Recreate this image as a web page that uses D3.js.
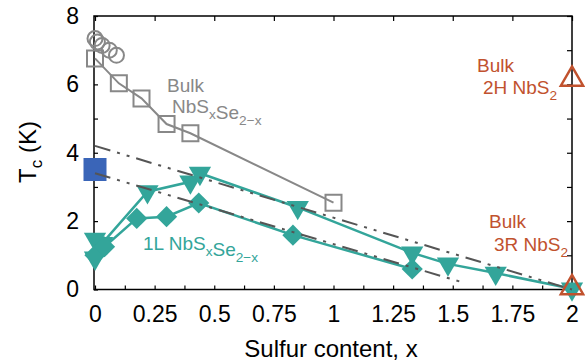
<!DOCTYPE html>
<html>
<head>
<meta charset="utf-8">
<script src="https://cdn.jsdelivr.net/npm/d3@7"></script>
<style>
  body { margin: 0; background: #fff; }
  text { font-family: "Liberation Sans", Arial, sans-serif; }
</style>
</head>
<body>
<svg width="585" height="364"></svg>
<script>
// bulk NbSxSe2-x (open squares + open circles)
const bulkSquares = [[0, 6.76], [0.1, 6.03], [0.195, 5.59], [0.3, 4.84], [0.4, 4.57], [1.0, 2.54]];
const bulkCircles = [[0, 7.34], [0.01, 7.24], [0.03, 7.14], [0.06, 7.0], [0.09, 6.85]];
// reference point (filled blue square)
const bluePoint = [[0, 3.51]];
// 1L NbSxSe2-x
const monoTriangles = [[0, 0.92], [0, 1.47], [0.03, 1.35], [0.22, 2.86], [0.4, 3.15], [0.44, 3.4],
  [0.85, 2.4], [1.33, 1.07], [1.48, 0.75], [1.68, 0.48], [2.0, 0.02]];
const monoDiamonds = [[0, 1.0], [0.04, 1.25], [0.175, 2.08], [0.3, 2.13], [0.435, 2.53], [0.83, 1.59], [1.33, 0.6]];
// bulk NbS2
const nbs2 = [[2, 6.15], [2, 0.05]];
// dash-dot guide lines
const guideUpper = [[0, 4.2], [2, 0]];
const guideLower = [[0, 3.4], [1.55, 0.19]];

const xMajor = [0, 0.25, 0.5, 0.75, 1, 1.25, 1.5, 1.75, 2];
const xMinor = d3.range(0, 2.001, 0.125);
const yMajor = [0, 2, 4, 6, 8];
const yMinor = [0, 1, 2, 3, 4, 5, 6, 7, 8];

const svg = d3.select("svg");

const x = d3.scaleLinear().domain([0, 2]).range([95, 572]);
const y = d3.scaleLinear().domain([0, 8]).range([289.5, 16]);

const grey = "#888888";
const teal = "#33a59a";
const orange = "#c1522e";
const dark = "#555555";

// axes (ticks inward)
svg.append("g")
    .attr("transform", `translate(0, ${y(0)})`)
    .call(d3.axisBottom(x).tickValues(xMinor).tickSizeInner(-4).tickSizeOuter(0).tickFormat(""));
svg.append("g")
    .attr("transform", `translate(0, ${y(0)})`)
    .call(d3.axisBottom(x).tickValues(xMajor).tickSize(0).tickPadding(16).tickFormat(d3.format("")));
svg.append("g")
    .attr("transform", `translate(0, ${y(8)})`)
    .call(d3.axisTop(x).tickValues(xMajor).tickSizeInner(-5).tickSizeOuter(0).tickFormat(""));
svg.append("g")
    .attr("transform", `translate(94, 0)`)
    .call(d3.axisLeft(y).tickValues(yMinor).tickSizeInner(-4).tickSizeOuter(0).tickFormat(""));
svg.append("g")
    .attr("transform", `translate(94, 0)`)
    .call(d3.axisLeft(y).tickValues(yMajor).tickSize(0).tickPadding(15));
svg.append("g")
    .attr("transform", `translate(572, 0)`)
    .call(d3.axisRight(y).tickValues(yMinor).tickSizeInner(-5).tickSizeOuter(0).tickFormat(""));

svg.selectAll(".domain").remove();
svg.selectAll(".tick line").attr("stroke", "#000").attr("stroke-width", 1.2);
svg.selectAll(".tick text").attr("font-size", 23).attr("fill", "#000")
    .style("font-family", "'Liberation Sans', Arial, sans-serif");

svg.append("rect")
    .attr("x", 94).attr("y", y(8))
    .attr("width", 572 - 94).attr("height", y(0) - y(8))
    .attr("fill", "none").attr("stroke", "#000").attr("stroke-width", 1.5);

const line = d3.line().x(d => x(d[0])).y(d => y(d[1]));
const sym = (type, size) => d3.symbol().type(type).size(size)();

// bulk alloy line + markers
svg.append("path").attr("d", line(bulkSquares))
    .attr("fill", "none").attr("stroke", grey).attr("stroke-width", 2);
svg.selectAll(".bsq").data(bulkSquares).join("path")
    .attr("d", sym(d3.symbolSquare, 256))
    .attr("transform", d => `translate(${x(d[0])}, ${y(d[1])})`)
    .attr("fill", "none").attr("stroke", grey).attr("stroke-width", 2);
svg.selectAll(".bci").data(bulkCircles).join("circle")
    .attr("cx", d => x(d[0])).attr("cy", d => y(d[1])).attr("r", 7.5)
    .attr("fill", "none").attr("stroke", grey).attr("stroke-width", 2);

// blue reference
svg.selectAll(".blue").data(bluePoint).join("rect")
    .attr("x", d => x(d[0]) - 11.5).attr("y", d => y(d[1]) - 11.5)
    .attr("width", 23).attr("height", 23)
    .attr("fill", "#3a65b8");

// monolayer series
svg.append("path").attr("d", line(monoTriangles))
    .attr("fill", "none").attr("stroke", teal).attr("stroke-width", 2.5);
svg.append("path").attr("d", line(monoDiamonds))
    .attr("fill", "none").attr("stroke", teal).attr("stroke-width", 2.5);
svg.selectAll(".tri").data(monoTriangles).join("path")
    .attr("d", sym(d3.symbolTriangle, 215))
    .attr("transform", d => `translate(${x(d[0])}, ${y(d[1])}) rotate(180)`)
    .attr("fill", teal);
svg.selectAll(".dia").data(monoDiamonds).join("path")
    .attr("d", sym(d3.symbolSquare, 225))
    .attr("transform", d => `translate(${x(d[0])}, ${y(d[1])}) rotate(45)`)
    .attr("fill", teal);

// NbS2 bulk
svg.selectAll(".nbs2").data(nbs2).join("path")
    .attr("d", sym(d3.symbolTriangle, 215))
    .attr("transform", d => `translate(${x(d[0])}, ${y(d[1])})`)
    .attr("fill", "none").attr("stroke", orange).attr("stroke-width", 2.5);

// dash-dot-dot guides
[guideUpper, guideLower].forEach(g => {
  svg.append("path").attr("d", line(g))
      .attr("fill", "none").attr("stroke", dark).attr("stroke-width", 2)
      .attr("stroke-dasharray", "16,7,3,7,3,7");
});

// annotations
function label(px, py, parts, color, size) {
  const t = svg.append("text").attr("x", px).attr("y", py)
      .attr("font-size", size).attr("fill", color);
  parts.forEach(p => {
    if (p.sub) {
      t.append("tspan").attr("dy", 6).attr("font-size", size * 0.72).text(p.t);
      t.append("tspan").attr("dy", -6).text("");
    } else {
      t.append("tspan").text(p.t);
    }
  });
  return t;
}
label(167, 92, [{t: "Bulk"}], grey, 19);
label(172, 113, [{t: "NbS"}, {t: "x", sub: true}, {t: "Se"}, {t: "2\u2212x", sub: true}], grey, 19);
label(143, 250, [{t: "1L NbS"}, {t: "x", sub: true}, {t: "Se"}, {t: "2\u2212x", sub: true}], teal, 19);
label(477, 72, [{t: "Bulk"}], orange, 19);
label(483, 94, [{t: "2H NbS"}, {t: "2", sub: true}], orange, 19);
label(489, 228, [{t: "Bulk"}], orange, 19);
label(494, 251, [{t: "3R NbS"}, {t: "2", sub: true}], orange, 19);

// axis titles
svg.append("text")
    .attr("x", 331).attr("y", 357)
    .attr("text-anchor", "middle").attr("font-size", 24)
    .text("Sulfur content, x");

const yt = svg.append("text")
    .attr("transform", "translate(36, 152) rotate(-90)")
    .attr("text-anchor", "middle").attr("font-size", 24);
yt.append("tspan").text("T");
yt.append("tspan").attr("dy", 6).attr("font-size", 17).text("c");
yt.append("tspan").attr("dy", -6).text(" (K)");
</script>
</body>
</html>
